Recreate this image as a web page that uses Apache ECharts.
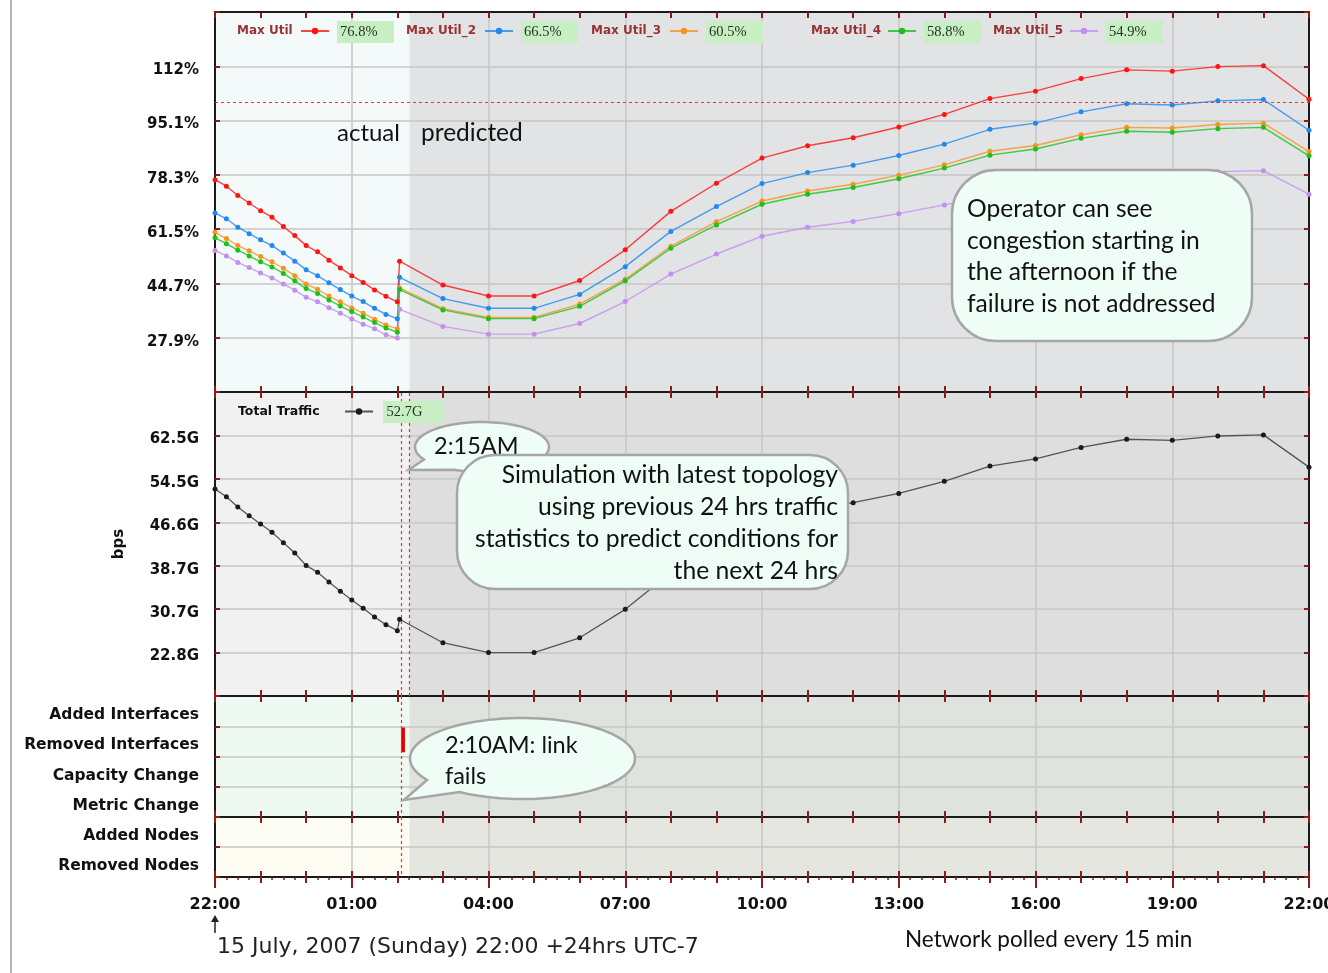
<!DOCTYPE html>
<html>
<head>
<meta charset="utf-8">
<script src="https://cdn.jsdelivr.net/npm/echarts@6/dist/echarts.min.js"></script>
<style>
html,body{margin:0;padding:0;background:#fff;}
#c{width:1328px;height:973px;}
</style>
</head>
<body>
<div id="c"></div>
<script>
// ---------------- DATA ----------------
const times = ['22:00','22:15','22:30','22:45','23:00','23:15','23:30','23:45','00:00','00:15','00:30','00:45',
  '01:00','01:15','01:30','01:45','02:00','02:03','03:00','04:00','05:00','06:00','07:00','08:00','09:00','10:00',
  '11:00','12:00','13:00','14:00','15:00','16:00','17:00','18:00','19:00','20:00','21:00','22:00'];

const utilNames = ['Max Util','Max Util_2','Max Util_3','Max Util_4','Max Util_5'];
const maxUtil1 = [76.8,74.8,71.9,69.6,67.2,65.2,62.3,59.5,56.4,54.5,51.9,49.5,47.1,45.0,42.7,40.7,39.0,
  51.6,44.2,40.8,40.8,45.6,55.1,67.0,75.7,83.5,87.3,89.8,93.1,97.0,101.9,104.2,108.1,110.8,110.4,111.8,112.1,101.7];
const maxUtil2 = [66.5,64.7,62.1,60.1,58.2,56.4,54.1,51.6,48.9,47.1,44.9,42.8,40.8,39.1,37.0,35.1,33.8,
  46.6,40.0,37.0,37.0,41.3,49.9,60.8,68.5,75.6,79.0,81.3,84.3,87.8,92.4,94.3,97.8,100.3,99.9,101.2,101.6,92.1];
const maxUtil3 = [60.5,58.6,56.4,54.8,53.0,51.4,49.4,47.1,44.5,42.9,40.8,39.0,37.1,35.5,33.6,31.8,30.7,
  43.3,36.9,34.2,34.2,38.3,46.0,56.2,63.8,70.2,73.3,75.4,78.2,81.4,85.6,87.4,90.7,93.0,92.8,93.9,94.3,85.5];
const maxUtil4 = [58.8,57.0,55.0,53.2,51.4,49.8,47.8,45.5,43.1,41.6,39.6,37.7,36.0,34.3,32.6,30.9,29.6,
  42.8,36.5,33.8,33.8,37.6,45.5,55.6,62.8,69.2,72.3,74.4,77.1,80.4,84.4,86.3,89.6,91.8,91.5,92.6,93.0,84.2];
const maxUtil5 = [54.9,53.2,51.2,49.6,47.9,46.4,44.5,42.6,40.4,39.0,37.2,35.5,33.7,32.1,30.7,28.8,27.8,
  36.7,31.4,29.0,29.0,32.3,39.1,47.6,53.8,59.3,62.1,63.9,66.3,69.0,71.8,73.0,75.5,77.8,77.5,79.3,79.6,72.3];
const totalTraffic = [52.7,51.3,49.4,47.8,46.3,44.8,42.9,41.0,38.7,37.5,35.7,34.0,32.4,30.9,29.3,27.9,26.8,
  28.9,24.6,22.8,22.8,25.5,30.7,37.4,42.2,46.6,48.7,50.2,51.9,54.1,56.9,58.2,60.3,61.8,61.6,62.4,62.6,56.7];

const xTickLabels = ['22:00','01:00','04:00','07:00','10:00','13:00','16:00','19:00','22:00'];
const utilTickLabels = ['27.9%','44.7%','61.5%','78.3%','95.1%','112%'];
const trafficTickLabels = ['22.8G','30.7G','38.7G','46.6G','54.5G','62.5G'];
const changeCategories = ['Added Interfaces','Removed Interfaces','Capacity Change','Metric Change'];
const nodeCategories = ['Added Nodes','Removed Nodes'];
const linkEvents = [['02:05','02:10','Removed Interfaces']];
const failureTime = '02:05';
const simulationTime = '02:16';
const utilThreshold = 100.8;

// ---------------- HELPERS ----------------
function toHours(list) {
  let prev = -1;
  return list.map(s => {
    const p = s.split(':').map(Number);
    let v = ((p[0] - 22 + 24) % 24) + p[1] / 60;
    while (v < prev) v += 24;
    prev = v;
    return v;
  });
}
const hrs = toHours(times);
const failH = toHours([failureTime])[0];
const simH = toHours([simulationTime])[0];

const UMIN = 11.1, UMAX = 128.7, UINT = 16.8;
const TMIN = 14.86, TMAX = 70.44, TINT = 7.94;

const TICK = '#8b1a1a';
const GRIDLINE = '#c6c6c6';
const BOLD = {fontFamily: 'DejaVu Sans', fontWeight: 'bold', color: '#111'};

const G = {left: 215, width: 1094, outerBoundsMode: 'none', containLabel: false};
function gr(top, height, bg) {
  const g = Object.assign({top, height}, G);
  if (bg) { g.show = true; g.backgroundColor = bg; g.borderWidth = 0; }
  return g;
}
const grids = [
  gr(12, 380, '#f4f9fa'),
  gr(392, 304, '#f1f1f1'),
  gr(696, 121, '#eef9f1'),
  gr(817, 60, '#fefdf4'),
  gr(817, 60),
  gr(817, 60)
];
const predictedColors = ['#e1e3e4', '#dedede', '#dfe3de', '#e6e6e1'];

function xAx(gridIndex, position, extra) {
  return Object.assign({
    type: 'value', gridIndex, position, min: 0, max: 24, interval: 3, z: 1.5,
    axisLine: {show: true, onZero: false, lineStyle: {color: '#1a1a1a', width: 2}},
    axisTick: {show: true, inside: true, length: 6, lineStyle: {color: TICK, width: 2}},
    minorTick: {show: true, splitNumber: 3, length: 6, lineStyle: {color: TICK, width: 2}},
    axisLabel: {show: false},
    splitLine: {show: position === 'bottom', lineStyle: {color: GRIDLINE, width: 1.5}},
    minorSplitLine: {show: false}
  }, extra || {});
}
const xLabelFmt = v => xTickLabels[Math.round(v / 3)] || '';

const xAxes = [
  xAx(0, 'bottom'), xAx(0, 'top'),
  xAx(1, 'bottom'), xAx(1, 'top'),
  xAx(2, 'bottom'), xAx(2, 'top'),
  xAx(3, 'bottom', {axisLabel: Object.assign({show: true, margin: 20, fontSize: 16, formatter: xLabelFmt}, BOLD)}),
  xAx(3, 'top'),
  xAx(4, 'bottom', {axisLine: {show: false, onZero: false}, splitLine: {show: false},
    axisTick: {show: true, inside: false, length: 11, lineStyle: {color: TICK, width: 2}},
    minorTick: {show: true, splitNumber: 3, length: 6, lineStyle: {color: TICK, width: 2}}}),
  xAx(5, 'bottom', {interval: 0.25, axisLine: {show: false, onZero: false}, splitLine: {show: false},
    axisTick: {show: true, inside: false, length: 3, lineStyle: {color: TICK, width: 1.5}},
    minorTick: {show: false}})
];

// rich style pushes y-axis labels a few pixels down, as in the original
const labelRich = size => ({p: Object.assign({fontSize: size, padding: [8, 0, 0, 0]}, BOLD)});

function yVal(gridIndex, position, min, max, interval, labels, extra) {
  const isLeft = position === 'left';
  return Object.assign({
    type: 'value', gridIndex, position, min, max, interval, z: 1.5,
    axisLine: {show: true, onZero: false, lineStyle: {color: '#1a1a1a', width: 2}},
    axisTick: {show: true, inside: true, length: 5, lineStyle: {color: TICK, width: 2}},
    axisLabel: Object.assign({show: isLeft, margin: 16, fontSize: 15, rich: labelRich(15),
      formatter: v => {
        const t = labels[Math.round((v - min) / interval) - 1];
        return t ? '{p|' + t + '}' : '';
      }}, BOLD),
    splitLine: {show: isLeft, lineStyle: {color: GRIDLINE, width: 1.5}}
  }, extra || {});
}
function yCat(gridIndex, position, cats) {
  const isLeft = position === 'left';
  return {
    type: 'category', gridIndex, position, data: cats, inverse: true, boundaryGap: true, z: 1.5,
    axisLine: {show: true, onZero: false, lineStyle: {color: '#1a1a1a', width: 2}},
    axisTick: {show: true, inside: true, length: 5, lineStyle: {color: TICK, width: 2}},
    axisLabel: Object.assign({show: isLeft, margin: 16, fontSize: 15.5, interval: 0, rich: labelRich(15.5),
      formatter: v => '{p|' + v + '}'}, BOLD),
    splitLine: {show: isLeft, lineStyle: {color: GRIDLINE, width: 1.5}}
  };
}
const yAxes = [
  yVal(0, 'left', UMIN, UMAX, UINT, utilTickLabels), yVal(0, 'right', UMIN, UMAX, UINT, utilTickLabels),
  yVal(1, 'left', TMIN, TMAX, TINT, trafficTickLabels, {name: 'bps', nameLocation: 'middle', nameGap: 88, nameRotate: 90,
    nameTextStyle: Object.assign({fontSize: 15}, BOLD)}),
  yVal(1, 'right', TMIN, TMAX, TINT, trafficTickLabels),
  yCat(2, 'left', changeCategories), yCat(2, 'right', changeCategories),
  yCat(3, 'left', nodeCategories), yCat(3, 'right', nodeCategories),
  {type: 'value', gridIndex: 4, show: false, min: 0, max: 1},
  {type: 'value', gridIndex: 5, show: false, min: 0, max: 1}
];

const dashRed = {type: [3, 3], color: '#ff2b2b', width: 1.2};
function bgSeries(xi, yi, idx, lines) {
  const s = {
    type: 'line', xAxisIndex: xi, yAxisIndex: yi, data: [], silent: true,
    markArea: {silent: true, data: [[{xAxis: simH, itemStyle: {color: predictedColors[idx]}}, {xAxis: 24}]]}
  };
  if (lines && lines.length) {
    s.markLine = {silent: true, symbol: 'none', label: {show: false}, lineStyle: dashRed, animation: false, data: lines};
  }
  return s;
}

const utilColors = ['#ff1414', '#2088ee', '#f7941d', '#1cbf1c', '#c48ef0'];
const utilData = [maxUtil1, maxUtil2, maxUtil3, maxUtil4, maxUtil5];
const utilSeries = utilData.map((arr, i) => ({
  type: 'line', name: utilNames[i], xAxisIndex: 0, yAxisIndex: 0,
  data: arr.map((v, j) => [hrs[j], v]),
  symbol: 'circle', symbolSize: 5, showSymbol: true,
  lineStyle: {width: 1.4, color: utilColors[i], opacity: 0.8},
  itemStyle: {color: utilColors[i]}
}));

const trafficSeries = {
  type: 'line', name: 'Total Traffic', xAxisIndex: 2, yAxisIndex: 2,
  data: totalTraffic.map((v, j) => [hrs[j], v]),
  symbol: 'circle', symbolSize: 5,
  lineStyle: {width: 1.3, color: '#555'}, itemStyle: {color: '#1a1a1a'}
};

const eventSeries = {
  type: 'custom', name: 'Link events', xAxisIndex: 4, yAxisIndex: 4,
  data: linkEvents.map(e => [toHours([e[0]])[0], toHours([e[1]])[0], e[2]]),
  encode: {x: [0, 1], y: 2},
  renderItem: (params, api) => {
    const c = api.value(2);
    const s = api.coord([api.value(0), c]);
    const e = api.coord([api.value(1), c]);
    const h = api.size([0, 1])[1] * 0.82;
    return {type: 'rect', shape: {x: s[0], y: s[1] - h / 2 - 1.5, width: Math.max(e[0] - s[0], 3), height: h},
      style: {fill: '#e40000'}};
  }
};

const series = [
  bgSeries(0, 0, 0, [{yAxis: utilThreshold}]),
  bgSeries(2, 2, 1, [{xAxis: failH}, {xAxis: simH}]),
  bgSeries(4, 4, 2, [{xAxis: failH}]),
  bgSeries(6, 6, 3, [{xAxis: failH}]),
  ...utilSeries, trafficSeries, eventSeries
];

// legends
const legendX = [237, 406, 591, 811, 993];
const legendTextW = [59, 74, 74, 72, 72];
const legends = utilNames.map((n, i) => ({
  data: [n], left: legendX[i], top: 25, align: 'right', padding: 0,
  itemWidth: 28, itemHeight: 8, selectedMode: false,
  formatter: name => '{n|' + name + '}',
  textStyle: {rich: {n: {width: legendTextW[i], align: 'left', color: '#993333', fontWeight: 'bold', fontSize: 12, fontFamily: 'DejaVu Sans'}}}
}));
legends.push({
  data: ['Total Traffic'], left: 238, top: 405, align: 'right', padding: 0,
  itemWidth: 28, itemHeight: 8, selectedMode: false,
  formatter: name => '{n|' + name + '}',
  textStyle: {rich: {n: {width: 102, align: 'left', color: '#111', fontWeight: 'bold', fontSize: 12.5, fontFamily: 'DejaVu Sans'}}}
});

// legend value boxes (current values)
const boxFill = '#c8eec3';
const valueBoxes = [];
utilData.forEach((arr, i) => {
  const bx = legendX[i] + legendTextW[i] + 5 + 28 + 8;
  valueBoxes.push({type: 'rect', z: 100, shape: {x: bx, y: 21, width: 57, height: 22}, style: {fill: boxFill}});
  valueBoxes.push({type: 'text', z: 101, x: bx + 3, y: 32, style: {text: arr[0].toFixed(1) + '%', fill: '#243424',
    font: '14.5px "Liberation Serif"', verticalAlign: 'middle', align: 'left'}});
});
valueBoxes.push({type: 'rect', z: 100, shape: {x: 383, y: 401, width: 60, height: 22}, style: {fill: boxFill}});
valueBoxes.push({type: 'text', z: 101, x: 386.5, y: 412, style: {text: totalTraffic[0].toFixed(1) + 'G', fill: '#243424',
  font: '14.5px "Liberation Serif"', verticalAlign: 'middle', align: 'left'}});

// annotations
const CALLOUT_FILL = '#effdf7', CALLOUT_STROKE = '#a6a6a6';
const HUM = '"Lato", "Open Sans", sans-serif';
function bubblePoints(cx, cy, rx, ry, a1, a2, tip) {
  const pts = [];
  const start = a2, end = a1 + 360, n = 90;
  for (let k = 0; k <= n; k++) {
    const a = (start + (end - start) * k / n) * Math.PI / 180;
    pts.push([cx + rx * Math.cos(a), cy + ry * Math.sin(a)]);
  }
  pts.push(tip);
  return pts;
}
const annotations = [
  {type: 'line', z: 100, shape: {x1: 11, y1: 0, x2: 11, y2: 973}, style: {stroke: '#b4b4b4', lineWidth: 2}},
  {type: 'text', z: 100, x: 337, y: 133, style: {text: 'actual', font: '24px ' + HUM, fill: '#111', verticalAlign: 'middle'}},
  {type: 'text', z: 100, x: 421, y: 133, style: {text: 'predicted', font: '24.5px ' + HUM, fill: '#111', verticalAlign: 'middle'}},
  // operator callout
  {type: 'rect', z: 100, shape: {x: 952, y: 170, width: 300, height: 171, r: 44},
    style: {fill: CALLOUT_FILL, stroke: CALLOUT_STROKE, lineWidth: 2.5}},
  {type: 'text', z: 101, x: 967, y: 256.5, style: {text: 'Operator can see\ncongestion starting in\nthe afternoon if the\nfailure is not addressed',
    font: '24.6px ' + HUM, lineHeight: 31.5, fill: '#111', verticalAlign: 'middle', align: 'left'}},
  // 2:15AM bubble
  {type: 'polygon', z: 100, shape: {points: bubblePoints(482, 447, 67, 25, 115, 150, [408.5, 470])},
    style: {fill: CALLOUT_FILL, stroke: CALLOUT_STROKE, lineWidth: 2.5}},
  {type: 'text', z: 101, x: 434, y: 446, style: {text: '2:15AM', font: '23.5px ' + HUM, fill: '#111', verticalAlign: 'middle'}},
  // simulation callout
  {type: 'rect', z: 102, shape: {x: 457, y: 455, width: 391, height: 134, r: 38},
    style: {fill: CALLOUT_FILL, stroke: CALLOUT_STROKE, lineWidth: 2.5}},
  {type: 'text', z: 103, x: 838, y: 523, style: {text: 'Simulation with latest topology\nusing previous 24 hrs traffic\nstatistics to predict conditions for\nthe next 24 hrs',
    font: '24.7px ' + HUM, lineHeight: 31.8, fill: '#111', verticalAlign: 'middle', align: 'right'}},
  // 2:10AM bubble
  {type: 'polygon', z: 100, shape: {points: bubblePoints(522.5, 758.5, 112.5, 40.5, 124, 148, [404, 800])},
    style: {fill: CALLOUT_FILL, stroke: CALLOUT_STROKE, lineWidth: 2.5}},
  {type: 'text', z: 101, x: 445, y: 761, style: {text: '2:10AM: link\nfails', font: '23.5px ' + HUM, lineHeight: 31.5,
    fill: '#111', verticalAlign: 'middle', align: 'left'}},
  // bottom notes
  {type: 'line', z: 100, shape: {x1: 215, y1: 933, x2: 215, y2: 920}, style: {stroke: '#222', lineWidth: 1.5}},
  {type: 'polygon', z: 100, shape: {points: [[215, 915], [211, 922], [219, 922]]}, style: {fill: '#222'}},
  {type: 'text', z: 100, x: 217, y: 947, style: {text: '15 July, 2007 (Sunday) 22:00 +24hrs UTC-7',
    font: '22px "DejaVu Sans"', fill: '#222', verticalAlign: 'middle'}},
  {type: 'text', z: 100, x: 905, y: 940, style: {text: 'Network polled every 15 min', font: '22.5px ' + HUM,
    fill: '#111', verticalAlign: 'middle'}}
];

const chart = echarts.init(document.getElementById('c'), null, {renderer: 'canvas'});
chart.setOption({
  backgroundColor: '#ffffff',
  animation: false,
  grid: grids,
  xAxis: xAxes,
  yAxis: yAxes,
  legend: legends,
  series: series,
  graphic: {elements: valueBoxes.concat(annotations)}
});
</script>
</body>
</html>
